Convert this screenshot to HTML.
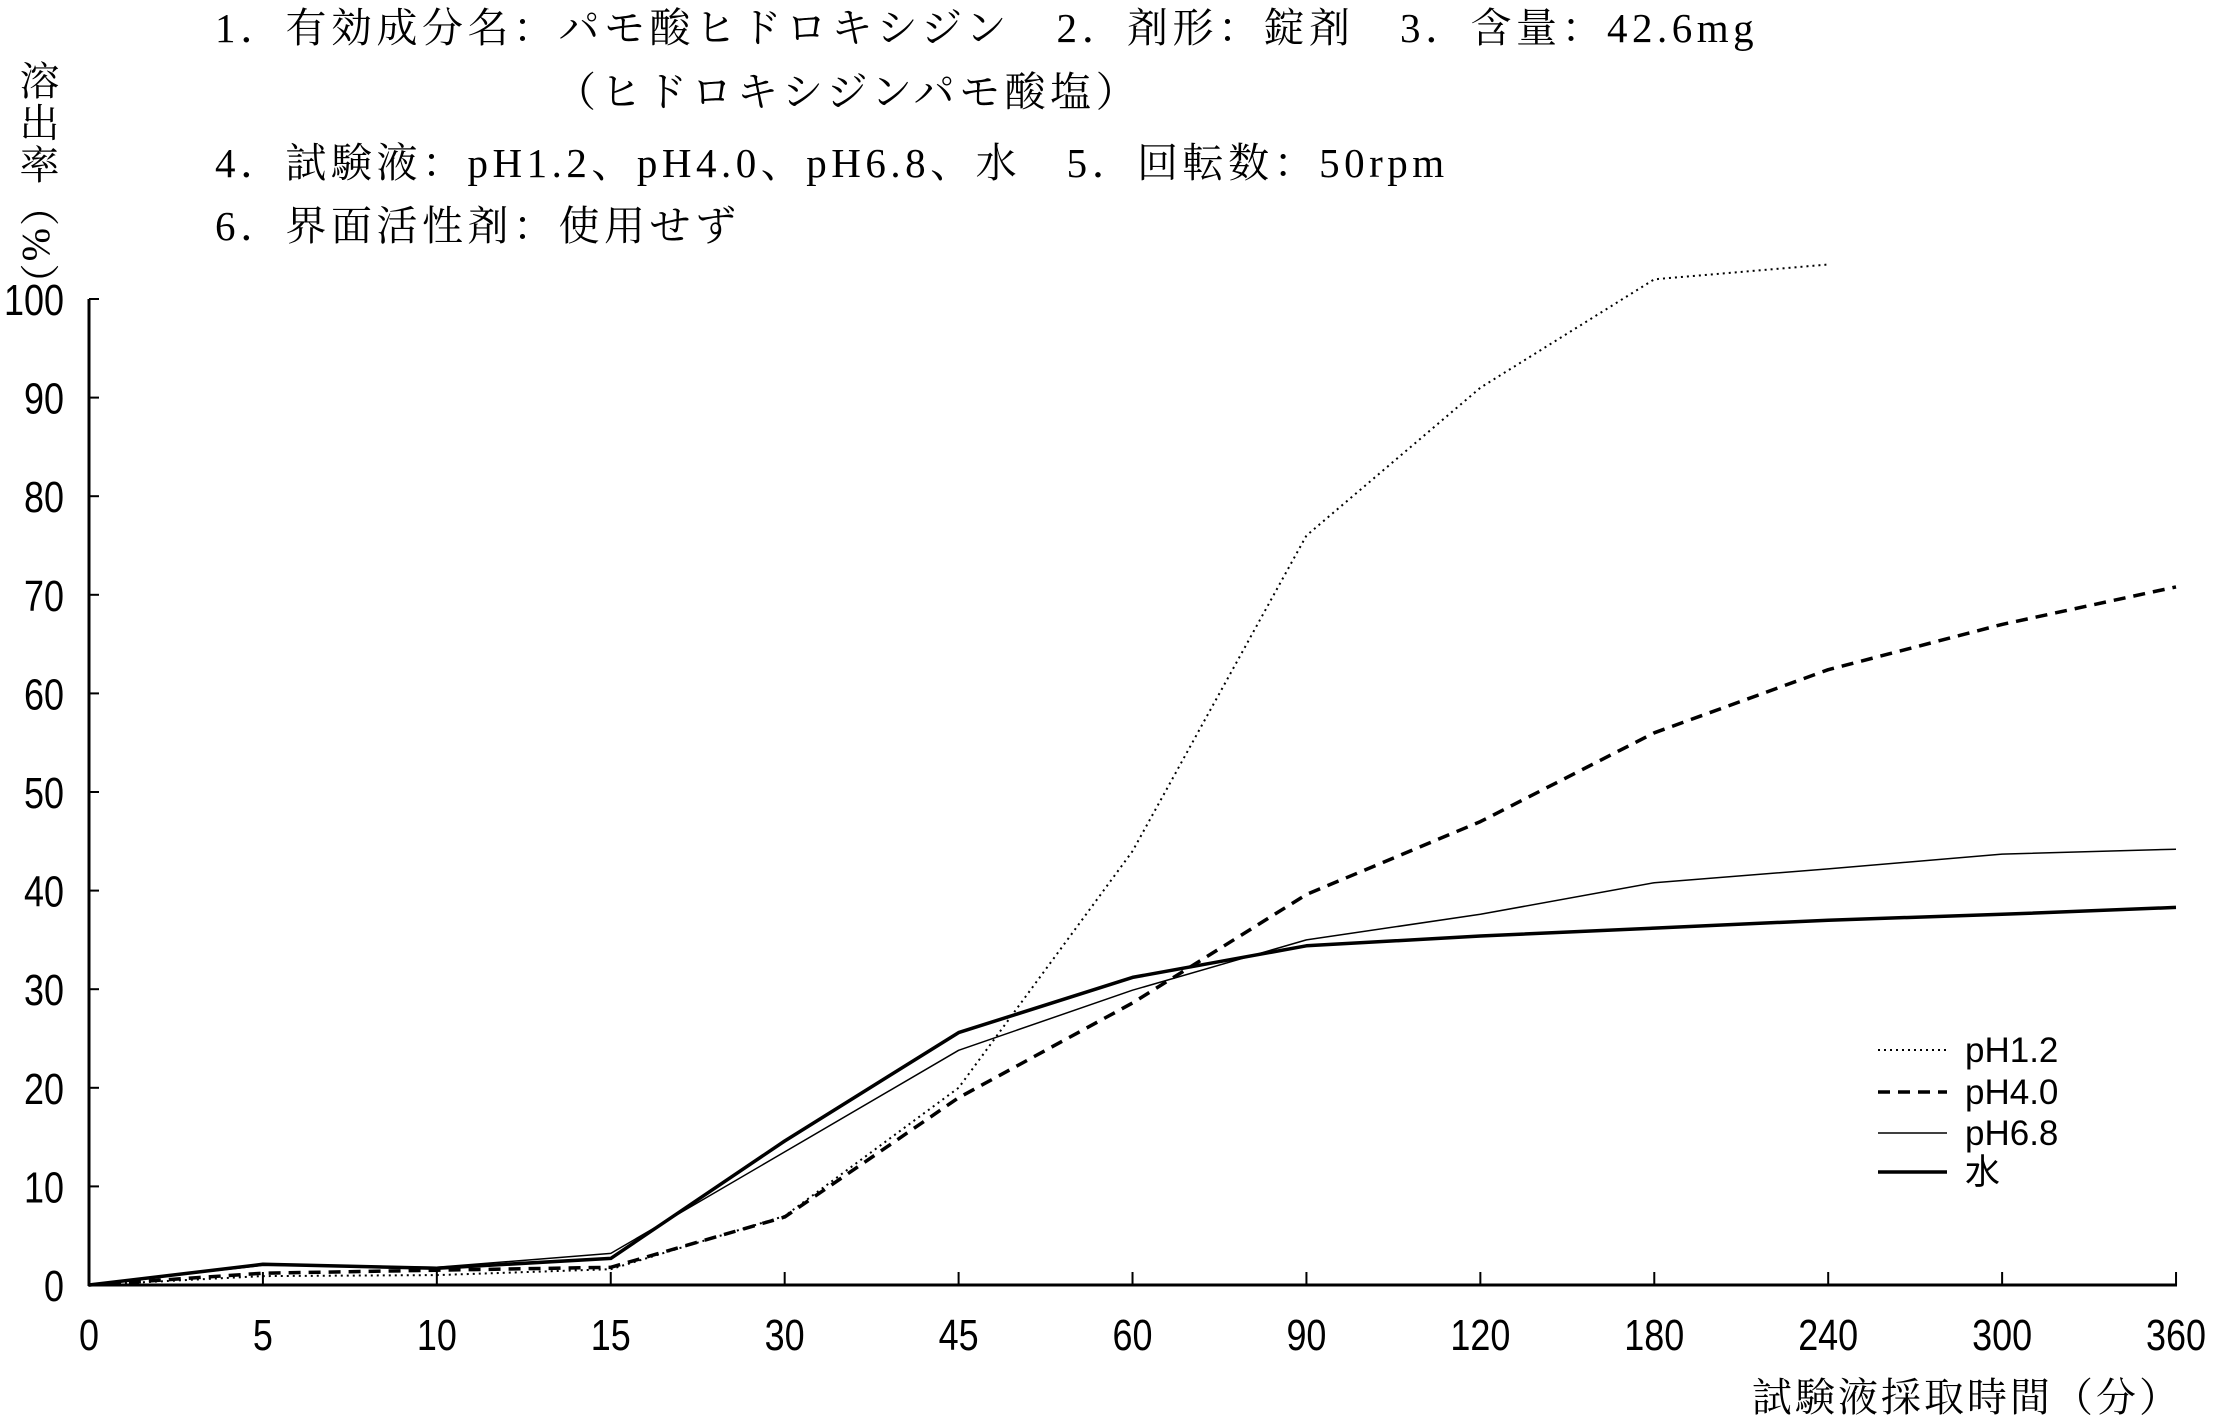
<!DOCTYPE html>
<html><head><meta charset="utf-8"><style>
body{margin:0;background:#fff;}
.wrap{position:relative;width:2214px;height:1417px;overflow:hidden;background:#fff;}
.t{position:absolute;white-space:pre;font-family:"Liberation Serif","Noto Serif CJK SC",serif;font-size:41px;color:#000;line-height:1;letter-spacing:4.5px;}
</style></head><body><div class="wrap">
<div class="t" style="left:215px;top:8px;">1．有効成分名：パモ酸ヒドロキシジン　2．剤形：錠剤　3．含量：42.6mg</div>
<div class="t" style="left:555px;top:72px;">（ヒドロキシジンパモ酸塩）</div>
<div class="t" style="left:215px;top:143px;">4．試験液：pH1.2、pH4.0、pH6.8、水　5．回転数：50rpm</div>
<div class="t" style="left:215px;top:206px;">6．界面活性剤：使用せず</div>
<div class="t" style="left:16px;top:60px;writing-mode:vertical-rl;font-size:40px;letter-spacing:2px;">溶出率（%）</div>
<div class="t" style="left:1752px;top:1378px;font-size:40px;letter-spacing:3px;">試験液採取時間（分）</div>
<svg width="2214" height="1417" style="position:absolute;left:0;top:0" font-family="Liberation Sans, sans-serif">
<g stroke="#000" stroke-width="3" fill="none">
<line x1="89" y1="299" x2="89" y2="1286"/>
<line x1="88" y1="1285" x2="2177" y2="1285"/>
</g>
<g stroke="#000" stroke-width="2" id="yt"></g>
<g id="lab" font-size="44" fill="#000"></g>
<g fill="none" stroke="#000" stroke-linejoin="round" id="series"></g>
<g stroke="#000" fill="none">
<line x1="1878" y1="1050" x2="1947" y2="1050" stroke-width="2" stroke-dasharray="2 4"/>
<line x1="1878" y1="1092" x2="1947" y2="1092" stroke-width="3.5" stroke-dasharray="12 8"/>
<line x1="1878" y1="1133" x2="1947" y2="1133" stroke-width="1.5"/>
<line x1="1878" y1="1172" x2="1947" y2="1172" stroke-width="3.5"/>
</g>
<g font-size="35" fill="#000">
<text x="1965" y="1062">pH1.2</text>
<text x="1965" y="1104">pH4.0</text>
<text x="1965" y="1145">pH6.8</text>
<text x="1965" y="1184" font-family="Liberation Sans, Noto Sans CJK JP, sans-serif">水</text>
</g>
</svg>
<script>
var X=i=>89+i*173.92, Y=v=>1285-v*9.86;
var ns="http://www.w3.org/2000/svg";
function el(p,t,a,txt){var e=document.createElementNS(ns,t);for(var k in a)e.setAttribute(k,a[k]);if(txt!=null)e.textContent=txt;p.appendChild(e);return e;}
var yt=document.getElementById('yt'),lab=document.getElementById('lab');
for(var v=0;v<=100;v+=10){var s=String(v);el(yt,'line',{x1:89,x2:99,y1:Y(v),y2:Y(v)});el(lab,'text',{x:64-s.length*20,y:Y(v)+16,textLength:s.length*20,lengthAdjust:'spacingAndGlyphs'},s);}
var xs=[0,5,10,15,30,45,60,90,120,180,240,300,360];
for(var i=0;i<13;i++){var s=String(xs[i]);if(i>0)el(yt,'line',{x1:X(i),x2:X(i),y1:1285,y2:1272});el(lab,'text',{x:X(i)-s.length*10,y:1350,textLength:s.length*20,lengthAdjust:'spacingAndGlyphs'},s);}
var S=document.getElementById('series');
function line(d,a){var p=d.map((v,i)=>X(i).toFixed(1)+','+Y(v).toFixed(1)).join(' ');a.points=p;el(S,'polyline',a);}
line([0,0.9,1.0,1.6,7,20,44,76,91,102,103.5],{'stroke-width':2,'stroke-dasharray':'2 4'});
line([0,1.2,1.5,1.8,6.9,19,28.6,39.6,47,56,62.4,67,70.8],{'stroke-width':3.5,'stroke-dasharray':'12 8'});
line([0,2,1.8,3.2,13.5,23.8,29.9,35,37.6,40.8,42.2,43.7,44.2],{'stroke-width':1.5});
line([0,2.1,1.7,2.7,14.6,25.6,31.2,34.4,35.4,36.2,37,37.6,38.3],{'stroke-width':3.5});
</script>
</div></body></html>
